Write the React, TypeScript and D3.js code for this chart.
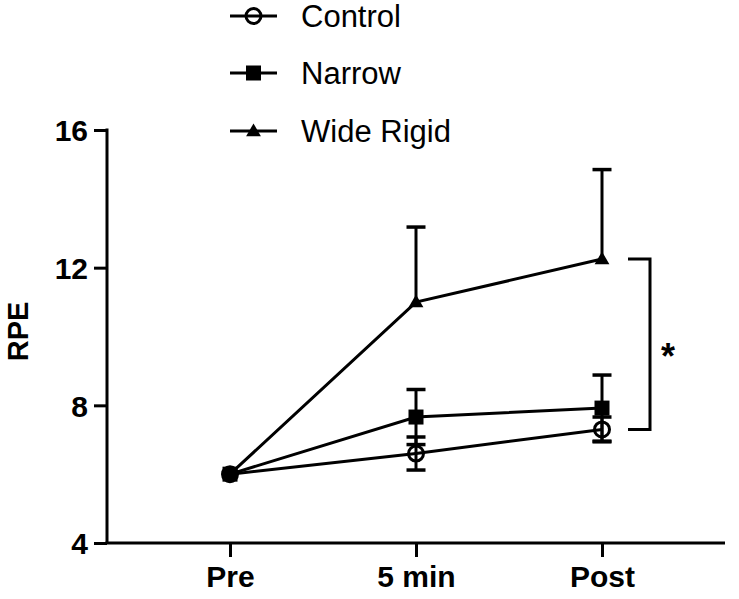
import React, { useEffect, useRef } from "react";
import * as d3 from "d3";

const categories = ["Pre", "5 min", "Post"];
const yTicks = [4, 8, 12, 16];

const controlMean = [6, 6.6, 7.3];
const controlErr = [0, 0.48, 0.36];
const narrowMean = [6, 7.66, 7.92];
const narrowErr = [0, 0.8, 0.96];
const wideMean = [6, 11.0, 12.25];
const wideErr = [0, 2.18, 2.6];

const series = [
  { name: "Control", mean: controlMean, err: controlErr, shape: "circle", both: true },
  { name: "Narrow", mean: narrowMean, err: narrowErr, shape: "square", both: true },
  { name: "Wide Rigid", mean: wideMean, err: wideErr, shape: "triangle", both: false },
];

const FONT = "'Liberation Sans', Arial, sans-serif";

const App = () => {
  const svgRef = useRef<SVGSVGElement>(null);

  useEffect(() => {
    const width = 739;
    const height = 599;
    const svg = d3.select(svgRef.current);
    svg.selectAll("*").remove();
    svg.attr("width", width).attr("height", height);

    const x = d3.scalePoint<string>().domain(categories).range([230, 602]);
    const y = d3.scaleLinear().domain([4, 16]).range([543, 130]);
    const xLeft = 107;
    const xRight = 725;

    // draw a marker of a given shape
    const marker = (g: any, shape: string, cx: number, cy: number) => {
      if (shape === "circle") {
        g.append("circle")
          .attr("cx", cx).attr("cy", cy).attr("r", 7.5)
          .attr("fill", "none").attr("stroke", "#000").attr("stroke-width", 3);
      } else if (shape === "square") {
        g.append("rect")
          .attr("x", cx - 7.5).attr("y", cy - 7.5)
          .attr("width", 15).attr("height", 15).attr("fill", "#000");
      } else {
        g.append("path")
          .attr("d", d3.symbol(d3.symbolTriangle, 95)())
          .attr("transform", `translate(${cx},${cy + 1})`)
          .attr("fill", "#000");
      }
    };

    // y axis
    const yAxis = svg.append("g")
      .attr("transform", `translate(${xLeft},0)`)
      .call(d3.axisLeft(y).tickValues(yTicks).tickSize(13).tickPadding(6).tickFormat(d3.format("d")));
    yAxis.select(".domain").remove();
    yAxis.append("line")
      .attr("x1", 0).attr("x2", 0).attr("y1", y(16) - 1.5).attr("y2", y(4))
      .attr("stroke", "#000").attr("stroke-width", 3);
    yAxis.selectAll(".tick line").attr("stroke-width", 3);
    yAxis.selectAll(".tick text")
      .attr("font-family", FONT).attr("font-size", 30).attr("font-weight", "bold")
      .attr("fill", "#000").attr("dy", "0.36em");

    // x axis
    const xAxis = svg.append("g")
      .attr("transform", `translate(0,${y(4)})`)
      .call(d3.axisBottom(x).tickSize(14).tickPadding(9));
    xAxis.select(".domain").remove();
    xAxis.append("line")
      .attr("x1", xLeft - 1.5).attr("x2", xRight).attr("y1", 0).attr("y2", 0)
      .attr("stroke", "#000").attr("stroke-width", 3);
    xAxis.selectAll(".tick line").attr("stroke-width", 3);
    xAxis.selectAll(".tick text")
      .attr("font-family", FONT).attr("font-size", 30).attr("font-weight", "bold")
      .attr("fill", "#000");

    // y axis title
    svg.append("text")
      .attr("transform", `translate(28,${(y(16) + y(4)) / 2 - 5}) rotate(-90)`)
      .attr("text-anchor", "middle")
      .attr("font-family", FONT).attr("font-size", 29).attr("font-weight", "bold")
      .text("RPE");

    const plot = svg.append("g");
    const line = d3.line<number>()
      .x((_, i) => x(categories[i]) as number)
      .y((d) => y(d));

    // connecting lines
    series.forEach((s) => {
      plot.append("path")
        .attr("d", line(s.mean))
        .attr("fill", "none").attr("stroke", "#000").attr("stroke-width", 3);
    });

    // error bars
    series.forEach((s) => {
      s.mean.forEach((m, i) => {
        if (!s.err[i]) return;
        const cx = x(categories[i]) as number;
        const ends = s.both ? [m + s.err[i], m - s.err[i]] : [m + s.err[i]];
        ends.forEach((e) => {
          plot.append("line")
            .attr("x1", cx).attr("x2", cx).attr("y1", y(m)).attr("y2", y(e))
            .attr("stroke", "#000").attr("stroke-width", 3);
          plot.append("line")
            .attr("x1", cx - 9.5).attr("x2", cx + 9.5).attr("y1", y(e)).attr("y2", y(e))
            .attr("stroke", "#000").attr("stroke-width", 3.5);
        });
      });
    });

    // markers
    series.forEach((s) => {
      s.mean.forEach((m, i) => {
        marker(plot, s.shape, x(categories[i]) as number, y(m));
      });
    });

    // significance bracket
    const bx = 650;
    const top = y(wideMean[2]);
    const bottom = y(controlMean[2]);
    svg.append("path")
      .attr("d", `M${bx - 22},${top}H${bx}V${bottom}H${bx - 22}`)
      .attr("fill", "none").attr("stroke", "#000").attr("stroke-width", 3);
    svg.append("text")
      .attr("x", bx + 18).attr("y", (top + bottom) / 2 + 25)
      .attr("text-anchor", "middle")
      .attr("font-family", FONT).attr("font-size", 36).attr("font-weight", "bold")
      .text("*");

    // legend
    const legendY = [16, 73, 131];
    series.forEach((s, i) => {
      const g = svg.append("g");
      g.append("line")
        .attr("x1", 230).attr("x2", 277).attr("y1", legendY[i]).attr("y2", legendY[i])
        .attr("stroke", "#000").attr("stroke-width", 3);
      marker(g, s.shape, 253.5, legendY[i]);
      g.append("text")
        .attr("x", 301).attr("y", legendY[i] + 11)
        .attr("font-family", FONT).attr("font-size", 31)
        .text(s.name);
    });
  }, []);

  return (
    <div style={{ position: "absolute", left: 0, top: 0, background: "#fff" }}>
      <svg ref={svgRef}></svg>
    </div>
  );
};

export default App;
